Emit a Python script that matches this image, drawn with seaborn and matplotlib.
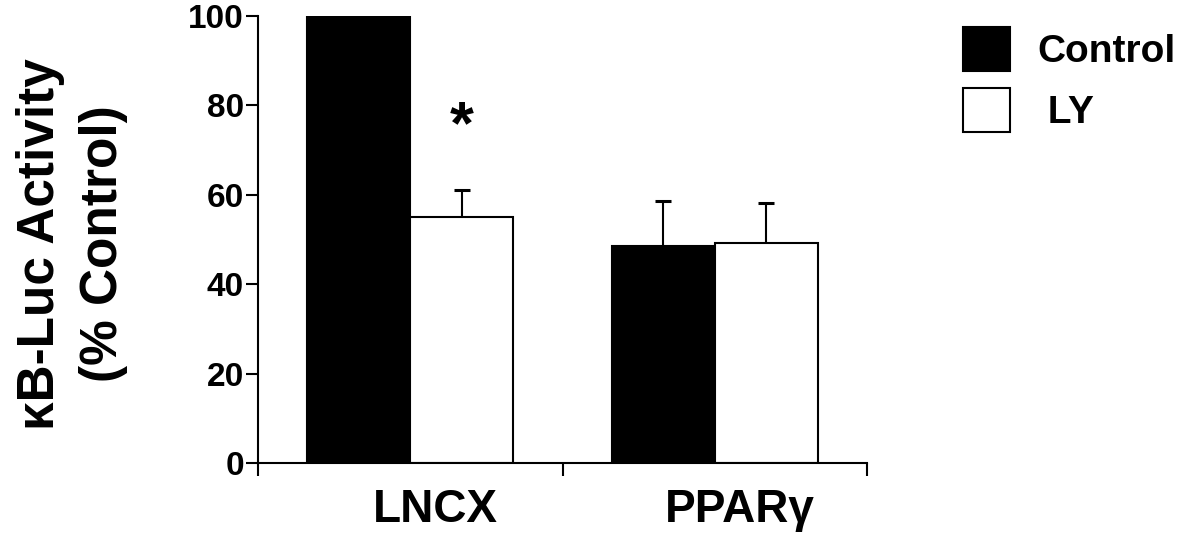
import matplotlib
matplotlib.use('Agg')
import matplotlib.pyplot as plt
import matplotlib.transforms as mtransforms
from matplotlib.patches import Patch
import seaborn as sns
import pandas as pd

# ---- data ----
categories = ['LNCX', 'PPARγ']
groups = ['Control', 'LY']
control_values = [100, 48.5]
ly_values = [55, 49.3]
control_err = [0, 10.2]
ly_err = [6, 8.8]
yticks = [0, 20, 40, 60, 80, 100]
ylabel = 'κB-Luc Activity\n(% Control)'
sig_marker = '*'
sig_value = 75
legend_labels = ['Control', ' LY']
bar_colors = ['black', 'white']

sns.set_theme(style='ticks', rc={'axes.edgecolor': 'black', 'xtick.color': 'black',
                                 'ytick.color': 'black', 'text.color': 'black',
                                 'axes.labelcolor': 'black'})
plt.rcParams['font.family'] = ['Liberation Sans', 'DejaVu Sans']
plt.rcParams['font.weight'] = 'bold'

df = pd.DataFrame({
    'category': categories * 2,
    'group': [groups[0]] * len(categories) + [groups[1]] * len(categories),
    'value': control_values + ly_values,
    'err': control_err + ly_err,
})

W, H = 1198, 535
fig = plt.figure(figsize=(W / 100, H / 100), dpi=100)
ax = fig.add_axes([258 / W, 1 - 463 / H, 609 / W, 447 / H])

sns.barplot(data=df, x='category', y='value', hue='group', order=categories,
            hue_order=groups, palette=bar_colors, edgecolor='black', linewidth=1.5,
            width=0.675, gap=0, errorbar=None, legend=False, saturation=1, ax=ax)

# error bars (upward only)
bars = list(ax.patches)
for patch, err in zip(bars, df['err']):
    if err > 0:
        cx = patch.get_x() + patch.get_width() / 2
        eb = ax.errorbar(cx, patch.get_height(), yerr=[[0], [err]], color='black',
                         capsize=6, elinewidth=1.5, capthick=2.2, fmt='none', zorder=1)
        caps = eb[1]
        if len(caps) > 1:
            caps[0].set_visible(False)

# significance marker above LY / LNCX
sig_bar = bars[len(categories)]
ax.text(sig_bar.get_x() + sig_bar.get_width() / 2, sig_value, sig_marker,
        ha='center', va='center', fontsize=44, fontweight='bold')

ax.set_xlim(-0.5, 1.5)
ax.set_ylim(0, 100)
ax.spines[['top', 'right']].set_visible(False)
ax.spines['left'].set_linewidth(1.5)
ax.spines['bottom'].set_linewidth(1.5)
ax.spines['left'].set_bounds(0, 100)

ax.set_yticks(yticks)
ax.set_yticklabels([str(t) for t in yticks], fontsize=24, fontweight='bold')
ax.tick_params(axis='y', direction='out', length=9, width=1.5, pad=1)

ax.set_xticks(range(len(categories)))
ax.set_xticklabels(categories, fontsize=33, fontweight='bold')
ax.tick_params(axis='x', which='major', length=0, pad=18)
ax.set_xticks([-0.5, 0.5, 1.5], minor=True)
ax.tick_params(axis='x', which='minor', direction='out', length=9, width=1.5)
for lbl in ax.get_xticklabels():
    lbl.set_transform(lbl.get_transform() +
                      mtransforms.ScaledTranslation(0.25, 0, fig.dpi_scale_trans))

ax.set_xlabel('')
ax.set_ylabel('')
fig.text(72 / W, 1 - 244 / H, ylabel, rotation=90, ha='center', va='center',
         fontsize=37, fontweight='bold', linespacing=1.35, multialignment='center')

handles = [Patch(facecolor=c, edgecolor='black', linewidth=1.5) for c in bar_colors]
fig.legend(handles, legend_labels, loc='upper left',
           bbox_to_anchor=(963 / W, 1 - 27 / H), frameon=False,
           prop={'size': 28, 'weight': 'bold'}, handlelength=1.2, handleheight=1.35,
           handletextpad=0.7, labelspacing=0.45, borderpad=0, borderaxespad=0)

fig.savefig('out.png', dpi=100)
